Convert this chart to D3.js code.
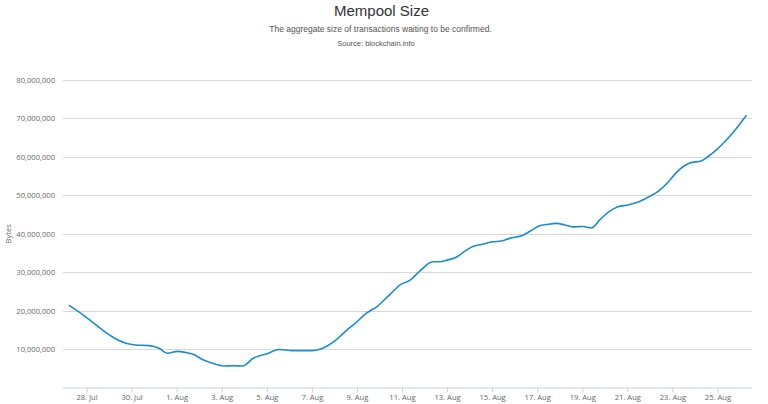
<!DOCTYPE html>
<html>
<head>
<meta charset="utf-8">
<script src="https://cdn.jsdelivr.net/npm/d3@7"></script>
<style>
  html, body { margin: 0; padding: 0; background: #fff; }
  svg { display: block; }
</style>
</head>
<body>
<svg id="chart" width="768" height="404"></svg>
<script>
// ---- data ----
const titleText = "Mempool Size";
const subtitleText = "The aggregate size of transactions waiting to be confirmed.";
const sourceText = "Source: blockchain.info";
const yAxisTitle = "Bytes";

const times = [
  "2016-07-27T06:00Z","2016-07-27T23:00Z","2016-07-28T11:30Z","2016-07-29T02:00Z","2016-07-29T18:00Z",
  "2016-07-30T04:30Z","2016-07-30T18:40Z","2016-07-31T05:20Z","2016-07-31T14:10Z","2016-08-01T00:50Z",
  "2016-08-01T09:50Z","2016-08-01T16:50Z","2016-08-02T03:30Z","2016-08-02T14:10Z","2016-08-03T02:40Z",
  "2016-08-03T11:30Z","2016-08-03T22:10Z","2016-08-04T09:36Z","2016-08-04T23:10Z","2016-08-05T13:20Z",
  "2016-08-06T03:30Z","2016-08-06T14:10Z","2016-08-07T00:50Z","2016-08-07T11:30Z","2016-08-08T01:50Z",
  "2016-08-08T14:10Z","2016-08-08T23:10Z","2016-08-09T09:50Z","2016-08-09T22:10Z","2016-08-10T10:40Z",
  "2016-08-10T23:10Z","2016-08-11T08:00Z","2016-08-11T18:40Z","2016-08-12T08:50Z","2016-08-12T16:00Z",
  "2016-08-13T00:50Z","2016-08-13T09:50Z","2016-08-13T18:40Z","2016-08-14T03:30Z","2016-08-14T12:30Z",
  "2016-08-15T00:50Z","2016-08-15T09:50Z","2016-08-15T18:40Z","2016-08-16T08:50Z","2016-08-16T16:00Z",
  "2016-08-17T02:40Z","2016-08-17T09:50Z","2016-08-17T20:30Z","2016-08-18T05:20Z","2016-08-18T14:10Z",
  "2016-08-19T00:50Z","2016-08-19T09:50Z","2016-08-19T18:40Z","2016-08-20T05:20Z","2016-08-20T14:10Z",
  "2016-08-21T00:50Z","2016-08-21T09:50Z","2016-08-21T20:30Z","2016-08-22T08:50Z","2016-08-22T17:50Z",
  "2016-08-23T02:40Z","2016-08-23T11:30Z","2016-08-23T18:40Z","2016-08-24T07:10Z","2016-08-24T14:10Z",
  "2016-08-24T23:10Z","2016-08-25T08:00Z","2016-08-25T16:50Z","2016-08-26T06:25Z"
];
const mempoolBytes = [
  21300000,18400000,16000000,13400000,11500000,
  11050000,10900000,10200000,8900000,9400000,
  9100000,8700000,7300000,6300000,5600000,
  5650000,5600000,7600000,8700000,9900000,
  9600000,9600000,9600000,10200000,12400000,
  15100000,16900000,19300000,21200000,24100000,
  26900000,27800000,30200000,32700000,32700000,
  33200000,33900000,35400000,36700000,37200000,
  37900000,38100000,38800000,39600000,40600000,
  42100000,42400000,42700000,42300000,41800000,
  41900000,41500000,43600000,45900000,47000000,
  47500000,48100000,49300000,51000000,53000000,
  55500000,57500000,58400000,59000000,60100000,
  61900000,64000000,66400000,70700000
];
const xTickDates = ["2016-07-28","2016-07-30","2016-08-01","2016-08-03","2016-08-05","2016-08-07",
  "2016-08-09","2016-08-11","2016-08-13","2016-08-15","2016-08-17","2016-08-19","2016-08-21",
  "2016-08-23","2016-08-25"];
const yTickValues = [10000000,20000000,30000000,40000000,50000000,60000000,70000000,80000000];
const xDomain = ["2016-07-26T22:57Z","2016-08-26T12:48Z"];
const yDomain = [0, 80000000];

// ---- layout ----
const svg = d3.select("#chart");
const margin = { left: 63, right: 16, top: 80, bottom: 17 };
const W = 768, H = 404;
const plotLeft = 63, plotRight = 752, plotTop = 80, plotBottom = 387.5;

const x = d3.scaleUtc().domain(xDomain.map(d => new Date(d))).range([plotLeft, plotRight]);
const y = d3.scaleLinear().domain(yDomain).range([plotBottom, plotTop]);

const fontFam = "'Liberation Sans', Arial, sans-serif";
const tickFont = "'Open Sans', 'Liberation Sans', sans-serif";

// titles
svg.append("text").attr("x", 381.5).attr("y", 15.5).attr("text-anchor", "middle")
  .style("font-family", fontFam).style("font-size", "15px").style("fill", "#333333")
  .text(titleText);
svg.append("text").attr("x", 380.5).attr("y", 31.5).attr("text-anchor", "middle")
  .style("font-family", fontFam).style("font-size", "8.5px").style("fill", "#555555")
  .text(subtitleText);
svg.append("text").attr("x", 376).attr("y", 45.5).attr("text-anchor", "middle")
  .style("font-family", fontFam).style("font-size", "7.5px").style("fill", "#555555")
  .text(sourceText);

// y grid + labels
const yAxis = d3.axisLeft(y).tickValues(yTickValues).tickSize(0).tickPadding(8)
  .tickFormat(d3.format(","));
const gy = svg.append("g").attr("transform", `translate(${plotLeft},0)`).call(yAxis);
gy.select(".domain").remove();
gy.selectAll("text").style("font-family", tickFont).style("font-size", "7.6px").style("fill", "#666666");

svg.append("g").selectAll("line").data(yTickValues).join("line")
  .attr("x1", plotLeft).attr("x2", plotRight)
  .attr("y1", d => Math.round(y(d)) + 0.5).attr("y2", d => Math.round(y(d)) + 0.5)
  .attr("stroke", "#d8d8d8").attr("stroke-width", 1);

// y axis title
svg.append("text").attr("transform", `translate(11,${(plotTop + plotBottom) / 2}) rotate(-90)`)
  .attr("text-anchor", "middle")
  .style("font-family", tickFont).style("font-size", "7.6px").style("fill", "#666666")
  .text(yAxisTitle);

// x axis
const xAxis = d3.axisBottom(x).tickValues(xTickDates.map(d => new Date(d + "T00:00Z")))
  .tickSize(5).tickPadding(2).tickFormat(d3.utcFormat("%-d. %b"));
const gx = svg.append("g").attr("transform", `translate(0,${plotBottom})`).call(xAxis);
gx.select(".domain").attr("d", `M${plotLeft},0.5H${plotRight}`).attr("stroke", "#c6d3e1");
gx.selectAll(".tick line").attr("stroke", "#c6d3e1");
gx.selectAll("text").style("font-family", tickFont).style("font-size", "7.6px").style("fill", "#666666");

// line
const data = times.map((t, i) => ({ t: new Date(t), v: mempoolBytes[i] }));
const line = d3.line().x(d => x(d.t)).y(d => y(d.v)).curve(d3.curveMonotoneX);
svg.append("path").datum(data).attr("d", line)
  .attr("fill", "none").attr("stroke", "#1a8dd2").attr("stroke-width", 1.6)
  .attr("stroke-linejoin", "round").attr("stroke-linecap", "round");
</script>
</body>
</html>
